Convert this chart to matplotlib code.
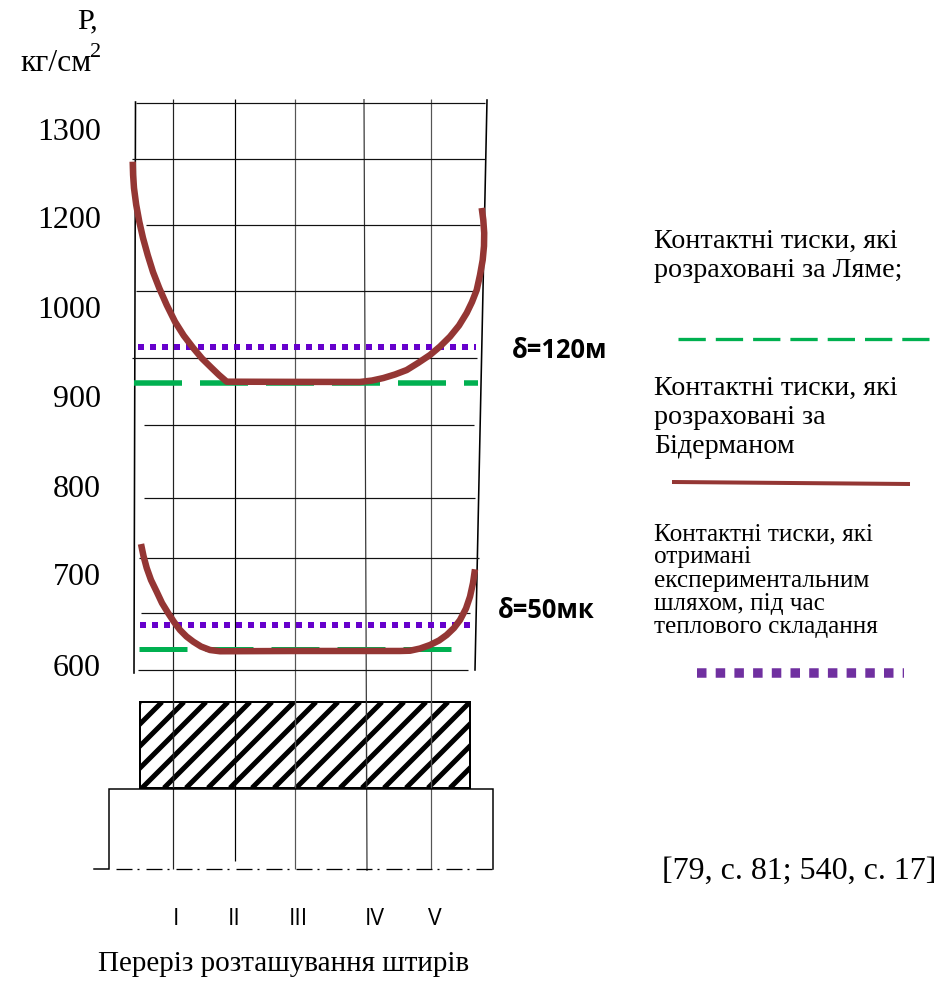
import numpy as np
import matplotlib
matplotlib.use("Agg")
import matplotlib.pyplot as plt
from matplotlib.patches import Rectangle

# ---- data (pressure, kg/cm2) ----
tick_values = [600, 700, 800, 900, 1000, 1200, 1300]
section_labels = ["I", "II", "III", "IV", "V"]
section_pos = [173, 234.5, 295, 364, 431]
section_label_pos = [176, 234, 298, 375, 435]

grid_p = [595.6, 658, 719, 788, 869, 944, 1038, 1184, 1267, 1331]
grid_x0 = [138, 141, 139, 144, 144, 132, 136, 146, 132, 136]
grid_x1 = [468, 470, 479, 475, 474, 477, 477, 480, 485, 485]

# delta = 120
bid_120_x = [132.7, 133.1, 134, 136.2, 139.3, 143, 147.7, 153, 159.3, 166.7, 175, 183.7, 193.3, 202, 211.7, 219, 226.7,
             295, 360, 372, 383.3, 395, 406.7, 418, 430, 440, 450, 459, 466.7, 472, 476.7, 480, 482.7, 484, 484.2, 483.3, 481.7]
bid_120_p = [1264, 1249, 1234, 1215, 1191.8, 1155.6, 1117.8, 1080, 1044, 1006.7, 984.6, 969.1, 955, 943.3, 932.6, 924.7, 917.2,
             917, 916.9, 918.5, 921.3, 925.3, 930.3, 938.2, 947.2, 956.7, 967.8, 980.3, 994.4, 1013.3, 1040, 1073.3, 1106.7, 1137.8, 1166.7, 1195.6, 1211.4]
lame_120 = 916
exp_120 = 956
# delta = 50
bid_50_x = [141, 143.5, 146.7, 151, 156.7, 162, 168.3, 174, 180, 186.5, 193.3, 201, 210, 220,
            300, 390, 400, 410, 420, 430, 439, 446.7, 454, 460, 466, 470, 473, 475]
bid_50_p = [735.2, 721.6, 708, 694.5, 681.6, 669.2, 657.9, 648.4, 639.6, 632.4, 626.7, 621.4, 617.6, 616.2,
            616.5, 616.5, 616.5, 616.8, 619.2, 623.1, 628, 634.1, 641.8, 650.5, 663.2, 676.2, 691.2, 706.5]
lame_50 = 619
exp_50 = 645

# ---- y scale: the hand-drawn axis is not linear ----
scale_p = np.array([254, 600, 700, 800, 900, 1000, 1200, 1300, 1448], float)
scale_px = np.array([981, 666, 575, 487, 397, 308, 218, 130, 0], float)
fwd = lambda p: np.interp(p, scale_p, 981 - scale_px)
inv = lambda v: np.interp(v, 981 - scale_px, scale_p)

plt.rcParams["lines.scale_dashes"] = False
serif = "Liberation Serif"
sans = "Open Sans"
PT = 0.72  # points per pixel at dpi 100
def dash(*px):
    return (0, tuple(v * PT for v in px))

fig = plt.figure(figsize=(9.51, 9.81), dpi=100)

# schematic overlay in figure pixels
sk = fig.add_axes([0, 0, 1, 1], zorder=0)
sk.set_xlim(0, 951); sk.set_ylim(981, 0); sk.axis("off")

for x, c, end in zip(section_pos, ["#222", "#000", "#555", "#333", "#555"], [869, 861, 869, 871, 869]):
    sk.plot([x, x + (3 if x == 364 else 0)], [99, end], color=c, lw=1.2 * PT, solid_capstyle="butt")
# frame sides
sk.plot([135.5, 134], [102, 673], color="k", lw=1.6 * PT)
sk.plot([487, 475], [100, 670], color="k", lw=1.6 * PT)
# hatched block
block = Rectangle((139.5, 702), 330, 86, fc="white", ec="k", lw=2 * PT, zorder=1.5)
sk.add_patch(block)
for x0 in np.arange(54, 470, 22):
    ln, = sk.plot([x0, x0 + 86], [788, 702], color="k", lw=5 * PT, zorder=1.6, solid_capstyle="butt")
    ln.set_clip_path(block)
sk.add_patch(Rectangle((139.5, 702), 330, 86, fc="none", ec="k", lw=2 * PT, zorder=1.7))
for x in section_pos:
    sk.plot([x + (2 if x == 364 else 0)] * 2, [702, 788], color="#444", lw=1.2 * PT, zorder=1.8)
# base
sk.plot([94, 109, 109, 492.5, 492.5], [869, 869, 789, 789, 869], color="k", lw=1.5 * PT, solid_joinstyle="miter", zorder=2)
sk.plot([116, 492], [869, 869], color="k", lw=1.3 * PT, ls=dash(16, 5, 2, 7), dash_capstyle="butt", zorder=2)

# chart axes with pressure on y
ax = fig.add_axes([0, 0, 1, 1], zorder=1)
ax.patch.set_alpha(0)
ax.set_xlim(0, 951)
ax.set_yscale("function", functions=(fwd, inv))
ax.set_ylim(254, 1448)
ax.axis("off")

for p, x0, x1 in zip(grid_p, grid_x0, grid_x1):
    ax.plot([x0, x1], [p, p], color="#111", lw=1.2 * PT, solid_capstyle="butt")

GREEN, BROWN, PURPLE = "#00b050", "#943634", "#6600cc"
ax.plot([134, 478], [lame_120, lame_120], color=GREEN, lw=5.5 * PT, ls=dash(48, 18), dash_capstyle="butt")
ax.plot([139, 451], [lame_50, lame_50], color=GREEN, lw=5 * PT, ls=dash(48, 18), dash_capstyle="butt")
ax.plot([138.3, 476], [exp_120, exp_120], color=PURPLE, lw=6 * PT, ls=dash(6, 6), dash_capstyle="butt")
ax.plot([140.3, 470], [exp_50, exp_50], color=PURPLE, lw=6 * PT, ls=dash(6, 6), dash_capstyle="butt")
ax.plot(bid_120_x, bid_120_p, color=BROWN, lw=6.5 * PT, solid_capstyle="butt", solid_joinstyle="round")
ax.plot(bid_50_x, bid_50_p, color=BROWN, lw=6.5 * PT, solid_capstyle="butt", solid_joinstyle="round")

for v in tick_values:
    ax.annotate(str(v), xy=(101, v), xytext=(0, -1.5), textcoords="offset points",
                ha="right", va="center", family=serif, fontsize=23, color="k")

# text in pixels
def T(x, y, s, size, family=serif, ha="left", va="baseline", **kw):
    sk.text(x, y, s, fontsize=size, family=family, ha=ha, va=va, color="k", **kw)

T(77, 28, "Р,", 21.8)
T(20, 71, "кг/см", 22.8)
T(90, 57, "2", 16)
T(512, 358, "δ=120м", 18.4, family=sans, weight="bold")
T(498, 618, "δ=50мк", 18.4, family=sans, weight="bold")
for x, s in zip(section_label_pos, section_labels):
    T(x, 925, s, 16.5, family=sans, ha="center")
T(98, 971, "Переріз розташування штирів", 21)
T(662, 879, "[79, с. 81; 540, с. 17]", 23)

for y, s in zip([248, 277], ["Контактні тиски, які", "розраховані за Ляме;"]):
    T(654, y, s, 20.2)
for y, s in zip([395, 424, 453], ["Контактні тиски, які", "розраховані за", "Бідерманом"]):
    T(654, y, s, 20.2)
for y, s in zip([540, 563, 587, 610, 633], ["Контактні тиски, які", "отримані", "експериментальним", "шляхом, під час", "теплового складання"]):
    T(654, y, s, 18.2)

# legend keys
sk.plot([678, 929], [338.5, 338.5], color=GREEN, lw=3.3 * PT, ls=dash(27.3, 10), dash_capstyle="butt")
sk.plot([672, 910], [482, 484], color=BROWN, lw=4 * PT, solid_capstyle="butt")
sk.plot([697, 904], [673, 673], color="#7030a0", lw=9.5 * PT, ls=dash(9.5, 9.2), dash_capstyle="butt")

fig.savefig("out.png", dpi=100)
